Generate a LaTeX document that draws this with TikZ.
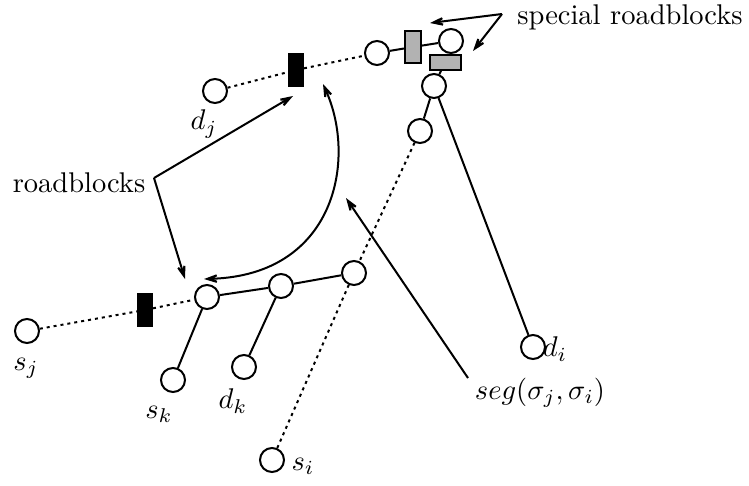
\documentclass[tikz,border=0pt]{standalone}
\usetikzlibrary{arrows.meta}
\tikzset{mytip/.tip={Stealth[length=22pt,width=15pt,inset=13pt]}}
\begin{document}
\begin{tikzpicture}[x=1pt,y=-1pt,
  vtx/.style={circle,draw,line width=2pt,minimum size=24pt,inner sep=0pt,fill=white},
  blk/.style={draw,line width=1pt,fill=black,minimum width=15pt,minimum height=33pt,inner sep=0pt},
  gblkv/.style={draw,line width=2pt,fill=gray!60,minimum width=16pt,minimum height=32pt,inner sep=0pt},
  gblkh/.style={draw,line width=2pt,fill=gray!60,minimum width=31pt,minimum height=15pt,inner sep=0pt},
  sol/.style={line width=2pt},
  dot/.style={line width=2pt,dash pattern=on 3pt off 4pt},
  arr/.style={line width=2pt,-mytip},
  lbl/.style={inner sep=0pt,scale=2.85}]
\useasboundingbox (0,0) rectangle (749,485);
% vertices
\node[vtx] (dj) at (215,91) {};
\node[blk] (rbt) at (296,70) {};
\node[vtx] (A) at (377,53) {};
\node[gblkv] (g1) at (413,47) {};
\node[vtx] (B) at (451,41) {};
\node[gblkh] (g2) at (445,62) {};
\node[vtx] (C) at (434,86) {};
\node[vtx] (D) at (420,131) {};
\node[vtx] (di) at (533,347) {};
\node[vtx] (sj) at (27,331) {};
\node[blk] (rbb) at (145,310) {};
\node[vtx] (F) at (207,297) {};
\node[vtx] (G) at (281,286) {};
\node[vtx] (E) at (354,273) {};
\node[vtx] (sk) at (173,380) {};
\node[vtx] (dk) at (244,367) {};
\node[vtx] (si) at (272,460) {};
% edges
\draw[dot] (dj) -- (rbt) -- (A);
\draw[sol] (A) -- (g1) -- (B);
\draw[sol] (B) -- (g2) -- (C);
\draw[sol] (C) -- (D);
\draw[sol] (C) -- (di);
\draw[dot] (D) -- (E) -- (si);
\draw[dot] (sj) -- (rbb) -- (F);
\draw[sol] (F) -- (G) -- (E);
\draw[sol] (F) -- (sk);
\draw[sol] (G) -- (dk);
% labels
\node[lbl] (ldj) at (204,124) {$d_j$};
\node[lbl] (lsj) at (26,368) {$s_j$};
\node[lbl] (lsk) at (159,414) {$s_k$};
\node[lbl] (ldk) at (233,401) {$d_k$};
\node[lbl] (lsi) at (303,466) {$s_i$};
\node[lbl] (ldi) at (555,349) {$d_i$};
\node[lbl] (lseg) at (540,393) {$seg(\sigma_j,\sigma_i)$};
\node[lbl] (lrb) at (79,183) {roadblocks};
\node[lbl] (lsp) at (630,17) {special roadblocks};
% arrows
\coordinate (rbs) at (154,178);
\coordinate (rbt1) at (293,96);
\coordinate (rbb1) at (185,279);
\draw[arr] (rbs) -- (rbt1);
\draw[arr] (rbs) -- (rbb1);
\coordinate (cu1) at (323,84);
\coordinate (cu2) at (204,279);
\draw[line width=2pt,mytip-mytip] (cu1) .. controls (357,160) and (335,275) .. (cu2);
\coordinate (segs) at (468,378);
\coordinate (sege) at (346,198);
\draw[arr] (segs) -- (sege);
\coordinate (sps) at (502,14);
\coordinate (sp1) at (430,23);
\coordinate (sp2) at (473,51);
\draw[arr] (sps) -- (sp1);
\draw[arr] (sps) -- (sp2);
\end{tikzpicture}
\end{document}
